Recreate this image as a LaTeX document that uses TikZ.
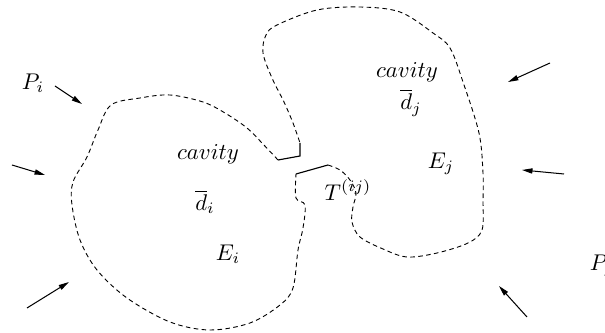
\documentclass[tikz,border=0pt]{standalone}
\usepackage{amssymb}
\usepackage{tikz}
\usetikzlibrary{arrows.meta}
\pgfdeclarelayer{edgelayer}
\pgfdeclarelayer{nodelayer}
\pgfsetlayers{edgelayer,nodelayer,main}
\tikzstyle{boundary}=[draw=black, line width=0.4pt, dash pattern=on 2pt off 1.5pt]
\tikzstyle{tube}=[draw=black, line width=0.5pt]
\tikzstyle{flux}=[draw=black, line width=0.45pt, -{Triangle[length=4.6pt,width=2.3pt]}]
\tikzstyle{lbl}=[inner sep=0pt, font=\normalsize]

\begin{document}
\begin{tikzpicture}[x=0.44pt, y=-0.44pt]
\useasboundingbox (0,0) rectangle (605,333);
						\begin{pgfonlayer}{nodelayer}
							\node [style=lbl] (Pi) at (33, 83) {$P_i$};
							\node [style=lbl] (Pj) at (602, 266) {$P_j$};
							\node [style=lbl] (cavi) at (208, 154) {$cavity$};
							\node [style=lbl] (di) at (205, 202) {$\overline{d}_i$};
							\node [style=lbl] (Ei) at (228, 254) {$E_i$};
							\node [style=lbl] (cavj) at (407, 72) {$cavity$};
							\node [style=lbl] (dj) at (411, 103) {$\overline{d}_j$};
							\node [style=lbl] (Ej) at (441, 164) {$E_j$};
							\node [style=lbl] (Tij) at (348, 190) {$T^{(ij)}$};
						\end{pgfonlayer}
						% arrow ends
						\coordinate (t1) at (55, 86);
						\coordinate (a1) at (82, 104);
						\coordinate (t2) at (12, 165);
						\coordinate (a2) at (45, 175);
						\coordinate (t3) at (27, 308);
						\coordinate (a3) at (69, 282);
						\coordinate (t4) at (550, 63);
						\coordinate (a4) at (508, 82);
						\coordinate (t5) at (564, 174);
						\coordinate (a5) at (522, 170);
						\coordinate (t6) at (527, 317);
						\coordinate (a6) at (499, 286);
						% tube pieces
						\coordinate (u1) at (300, 143);
						\coordinate (u2) at (300, 156);
						\coordinate (u3) at (278, 160);
						\coordinate (w1) at (296, 174);
						\coordinate (w2) at (328, 165);
						\begin{pgfonlayer}{edgelayer}
							\draw [style=flux] (t1) to (a1);
							\draw [style=flux] (t2) to (a2);
							\draw [style=flux] (t3) to (a3);
							\draw [style=flux] (t4) to (a4);
							\draw [style=flux] (t5) to (a5);
							\draw [style=flux] (t6) to (a6);
							\draw [style=tube] (u1) -- (u2) -- (u3);
							\draw [style=tube] (w1) -- (w2);
							\draw [style=boundary] plot [smooth, tension=0.55] coordinates {(278,160) (262,143) (247,128) (225,113) (203,102) (170,95) (140,98) (111,105) (98,130) (87,157) (73,182) (72,205) (80,240) (97,270) (127,298) (170,322) (210,330) (250,323) (280,305) (293,288) (298,250) (303,228) (305,205) (296,198) (296,174)};
							\draw [style=boundary] plot [smooth, tension=0.55] coordinates {(328,165) (340,170) (350,180) (356,193) (353,207) (352,222) (360,237) (383,249) (407,257) (437,253) (468,243) (482,230) (483,200) (483,173) (479,133) (463,82) (450,48) (433,33) (400,12) (360,7) (317,10) (277,25) (266,35) (263,53) (272,78) (284,102) (293,123) (300,143)};
						\end{pgfonlayer}
\end{tikzpicture}
\end{document}
